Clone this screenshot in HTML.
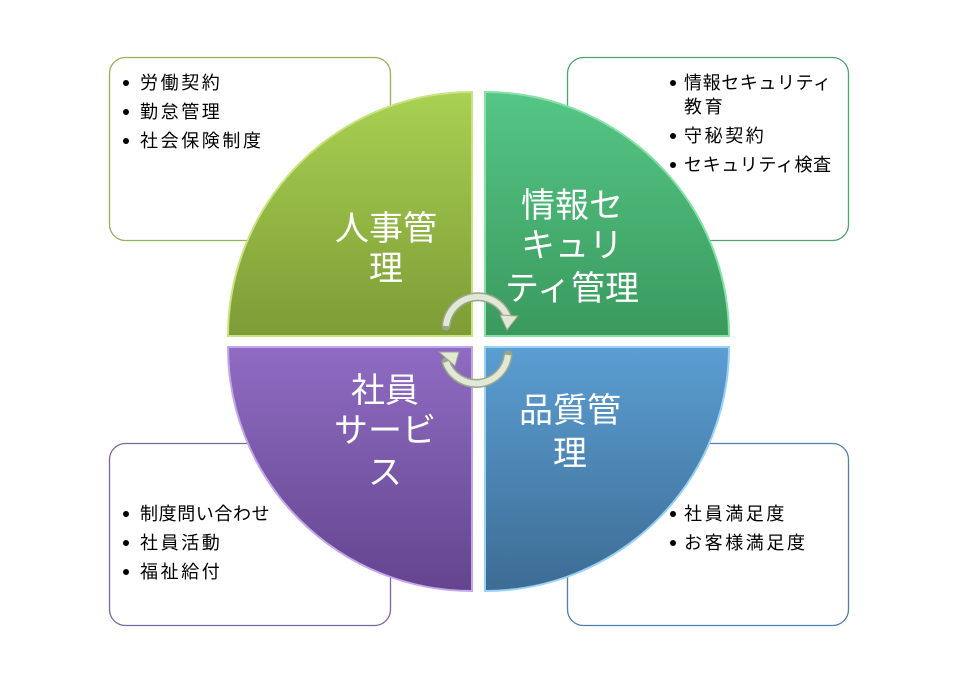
<!DOCTYPE html>
<html><head><meta charset="utf-8"><style>
body{margin:0;background:#fff;width:969px;height:689px;overflow:hidden}
svg text{font-family:"Liberation Sans","Noto Sans CJK JP",sans-serif}
.b{font-size:18px;fill:#000;letter-spacing:2.6px}
.k{letter-spacing:0.6px}
.q{font-size:34px;fill:#fff;text-anchor:middle}
</style></head><body>
<svg width="969" height="689" viewBox="0 0 969 689">
<defs>
<linearGradient id="g1" x1="0" y1="0" x2="0" y2="1"><stop offset="0" stop-color="#a9d152"/><stop offset="1" stop-color="#7d9c36"/></linearGradient>
<linearGradient id="g2" x1="0" y1="0" x2="0" y2="1"><stop offset="0" stop-color="#55c685"/><stop offset="1" stop-color="#3a9a5e"/></linearGradient>
<linearGradient id="g3" x1="0" y1="0" x2="0" y2="1"><stop offset="0" stop-color="#8f6cc2"/><stop offset="1" stop-color="#64448f"/></linearGradient>
<linearGradient id="g4" x1="0" y1="0" x2="0" y2="1"><stop offset="0" stop-color="#5b9ed2"/><stop offset="1" stop-color="#3d6c94"/></linearGradient>
</defs>
<rect x="109.5" y="57.5" width="281" height="183" rx="16" fill="#fff" stroke="#93b254" stroke-width="1.3"/>
<rect x="567.5" y="57.5" width="281" height="183" rx="16" fill="#fff" stroke="#4ea56c" stroke-width="1.3"/>
<rect x="109.5" y="443.5" width="281" height="182" rx="16" fill="#fff" stroke="#7e64a3" stroke-width="1.3"/>
<rect x="567.5" y="443.5" width="281" height="182" rx="16" fill="#fff" stroke="#4f7fae" stroke-width="1.3"/>

<path d="M472,336 L228,336 A244,244 0 0 1 472,92 Z" fill="url(#g1)" stroke="#c9e37f" stroke-width="2"/>
<path d="M485,336 L485,92 A244,244 0 0 1 729,336 Z" fill="url(#g2)" stroke="#86e0a8" stroke-width="2"/>
<path d="M472,347 L472,591 A244,244 0 0 1 228,347 Z" fill="url(#g3)" stroke="#c3a6ec" stroke-width="2"/>
<path d="M485,347 L729,347 A244,244 0 0 1 485,591 Z" fill="url(#g4)" stroke="#9ad2f5" stroke-width="2"/>

<g fill="#000">
<circle cx="126" cy="83" r="3"/><circle cx="126" cy="112" r="3"/><circle cx="126" cy="141" r="3"/>
<circle cx="673" cy="83" r="3"/><circle cx="673" cy="136" r="3"/><circle cx="673" cy="165" r="3"/>
<circle cx="126" cy="514" r="3"/><circle cx="126" cy="543" r="3"/><circle cx="126" cy="572" r="3"/>
<circle cx="673" cy="514" r="3"/><circle cx="673" cy="543" r="3"/>
</g>
<g class="b">
<text x="140" y="89">労働契約</text>
<text x="140" y="118">勤怠管理</text>
<text x="140" y="147">社会保険制度</text>
<text x="684" y="89" class="k">情報セキュリティ</text>
<text x="684" y="113">教育</text>
<text x="684" y="142">守秘契約</text>
<text x="684" y="171" class="k">セキュリティ検査</text>
<text x="140" y="520" class="k">制度問い合わせ</text>
<text x="140" y="549">社員活動</text>
<text x="140" y="578">福祉給付</text>
<text x="684" y="520">社員満足度</text>
<text x="684" y="549">お客様満足度</text>
</g>
<g class="q">
<text x="386" y="240">人事管</text><text x="386" y="280">理</text>
<text x="572" y="217">情報セ</text><text x="572" y="257">キュリ</text><text x="572" y="300">ティ管理</text>
<text x="385" y="402">社員</text><text x="385" y="442">サービ</text><text x="385" y="484">ス</text>
<text x="570" y="422">品質管</text><text x="570" y="465">理</text>
</g>
<g fill="none" stroke="#9aa58a" stroke-width="9" stroke-linecap="round">
<path d="M446,326 A32,32 0 0 1 508,318"/>
<path d="M508,355 A32,32 0 0 1 446,362"/>
</g>
<g fill="none" stroke="#e2e8d6" stroke-width="6">
<path d="M446,326 A32,32 0 0 1 508,318"/>
<path d="M508,355 A32,32 0 0 1 446,362"/>
</g>
<path d="M500,315 L518,316 L507,330 Z" fill="#e2e8d6" stroke="#9aa58a"/>
<path d="M455,366 L439,352 L459,352 Z" fill="#e2e8d6" stroke="#9aa58a"/>
</svg>
</body></html>
